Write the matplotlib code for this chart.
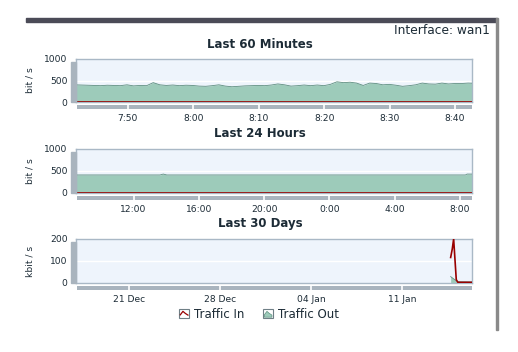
import datetime as dt
import matplotlib
matplotlib.use("Agg")
import matplotlib.pyplot as plt
import matplotlib.dates as mdates
from matplotlib.patches import Rectangle, Polygon
from matplotlib.lines import Line2D
from matplotlib.legend_handler import HandlerBase

W, H = 518, 352

# --- data -------------------------------------------------------------
# last 60 minutes, one value per minute from 7:42 (bit/s)
min_start = dt.datetime(2010, 1, 16, 7, 42)
min_out = [400, 395, 390, 385, 380, 390, 385, 380, 400, 375, 385, 380, 450, 400,
           385, 395, 380, 390, 385, 370, 365, 380, 400, 370, 355, 365, 375, 380,
           385, 380, 395, 420, 400, 370, 380, 395, 380, 395, 380, 410, 470, 450,
           460, 440, 385, 440, 430, 400, 410, 390, 365, 380, 400, 440, 420, 415,
           440, 420, 430, 430, 440, 435]
min_in = [8] * len(min_out)

# last 24 hours (bit/s)
day_times = ["2010-01-15 08:30", "2010-01-15 13:40", "2010-01-15 13:52",
             "2010-01-15 14:05", "2010-01-16 08:20", "2010-01-16 08:26",
             "2010-01-16 08:44"]
day_out = [410, 410, 430, 410, 410, 430, 430]
day_in = [8, 8, 8, 8, 8, 8, 8]

# last 30 days (kbit/s)
month_in_times = ["2010-01-14 17:30", "2010-01-14 20:30", "2010-01-14 23:00",
                  "2010-01-15 03:50", "2010-01-15 06:50", "2010-01-16 08:44"]
month_in = [116, 155, 200, 15, 3, 3]
month_out_times = ["2010-01-14 17:30", "2010-01-15 03:50", "2010-01-15 06:50",
                   "2010-01-16 08:44"]
month_out = [29, 10, 6, 5]

titles = ["Last 60 Minutes", "Last 24 Hours", "Last 30 Days"]
units = ["bit / s", "bit / s", "kbit / s"]

# --- styling ----------------------------------------------------------
C_BG = "#eef4fc"
C_BORDER = "#a9b8c6"
C_BAR = "#a9b4be"
C_OUT = "#9dcbba"
C_OUT_EDGE = "#5f8f80"
C_IN = "#990000"
C_TXT = "#1c2b36"

fig = plt.figure(figsize=(W / 100, H / 100), dpi=100)
fig.patch.set_facecolor("white")


def frect(x0, y0, x1, y1):
    # pixel box (top-left origin) -> figure fraction rect
    return [x0 / W, 1 - y1 / H, (x1 - x0) / W, (y1 - y0) / H]


def hm(x, pos=None):
    d = mdates.num2date(x)
    return f"{d.hour}:{d.minute:02d}"


panels = [
    dict(top=59, bot=102, ymax=1000, yt=[0, 500, 1000],
         xlim=(dt.datetime(2010, 1, 16, 7, 42, 14), dt.datetime(2010, 1, 16, 8, 42, 35)),
         loc=mdates.MinuteLocator(byminute=range(0, 60, 10)),
         fmt=plt.FuncFormatter(hm)),
    dict(top=149, bot=193, ymax=1000, yt=[0, 500, 1000],
         xlim=(dt.datetime(2010, 1, 15, 8, 32), dt.datetime(2010, 1, 16, 8, 44)),
         loc=mdates.HourLocator(byhour=[0, 4, 8, 12, 16, 20]),
         fmt=plt.FuncFormatter(hm)),
    dict(top=239, bot=283, ymax=200, yt=[0, 100, 200],
         xlim=(dt.datetime(2009, 12, 17, 1, 0), dt.datetime(2010, 1, 16, 8, 44)),
         loc=mdates.WeekdayLocator(byweekday=mdates.MO),
         fmt=mdates.DateFormatter("%d %b")),
]

min_times = [min_start + dt.timedelta(minutes=i) for i in range(len(min_out))]
series = [
    (min_times, min_out, min_times, min_in),
    ([dt.datetime.fromisoformat(t) for t in day_times], day_out,
     [dt.datetime.fromisoformat(t) for t in day_times], day_in),
    ([dt.datetime.fromisoformat(t) for t in month_out_times], month_out,
     [dt.datetime.fromisoformat(t) for t in month_in_times], month_in),
]

title_y = [44, 134, 224]

for i, p in enumerate(panels):
    ax = fig.add_axes(frect(76, p["top"], 472, p["bot"]))
    ax.set_facecolor(C_BG)
    for s in ax.spines.values():
        s.set_color(C_BORDER)
        s.set_linewidth(1.0)
    tx, ty, ix, iy = series[i]
    ax.fill_between(tx, ty, 0, color=C_OUT, lw=0, zorder=2)
    ax.plot(tx, ty, color=C_OUT_EDGE, lw=0.6, zorder=3)
    ax.plot(ix, iy, color=C_IN, lw=1.2, zorder=4)
    ax.axhline(p["yt"][1], color="white", lw=1.0, zorder=1)
    ax.set_xlim(*p["xlim"])
    ax.set_ylim(0, p["ymax"])
    ax.set_yticks(p["yt"])
    ax.tick_params(axis="y", length=0, pad=6, labelsize=6.6, labelcolor=C_TXT)
    ax.set_xticks([])

    # gray bar on the left
    fig.patches.append(Rectangle((71 / W, 1 - p["bot"] / H), 4.5 / W,
                                 (p["bot"] - p["top"] - 3) / H,
                                 transform=fig.transFigure, color=C_BAR))

    # gray time bar under the plot with white tick gaps
    bx = fig.add_axes(frect(77, p["bot"] + 3, 472, p["bot"] + 7))
    bx.set_facecolor(C_BAR)
    for s in bx.spines.values():
        s.set_visible(False)
    bx.set_xlim(*p["xlim"])
    bx.set_yticks([])
    bx.xaxis.set_major_locator(p["loc"])
    bx.xaxis.set_major_formatter(p["fmt"])
    bx.tick_params(axis="x", direction="in", length=3.5, width=1.2, color="white",
                   pad=3.5, labelsize=6.6, labelcolor=C_TXT)

    fig.text(260 / W, 1 - title_y[i] / H, titles[i], ha="center", va="center",
             fontsize=8.5, fontweight="bold", color=C_TXT)
    fig.text(30 / W, 1 - (p["top"] + p["bot"]) / 2 / H, units[i], rotation=90,
             ha="center", va="center", fontsize=6.6, color=C_TXT)

fig.text(490 / W, 1 - 30 / H, "Interface: wan1", ha="right", va="center",
         fontsize=8.8, color=C_TXT)

# page decorations: dark header bar and right frame edge
fig.patches.append(Rectangle((26 / W, 1 - 21.5 / H), 471 / W, 4 / H,
                             transform=fig.transFigure, color="#4b4b57"))
fig.patches.append(Rectangle((495.5 / W, 1 - 330 / H), 2.5 / W, 312 / H,
                             transform=fig.transFigure, color="#8a8a8a"))


class BoxIcon(HandlerBase):
    def __init__(self, kind):
        super().__init__()
        self.kind = kind

    def create_artists(self, legend, orig_handle, xd, yd, width, height, fontsize, trans):
        x0, y0 = -xd, -yd
        box = Rectangle((x0, y0), width, height, fc="white", ec="#6f7f86",
                        lw=0.8, transform=trans)
        pts = [(0.12, 0.35), (0.38, 0.72), (0.62, 0.5), (0.88, 0.32)]
        pts = [(x0 + a * width, y0 + b * height) for a, b in pts]
        if self.kind == "line":
            xs, ys = zip(*pts)
            mark = Line2D(xs, ys, color=C_IN, lw=0.9, transform=trans)
        else:
            poly = pts + [(x0 + 0.88 * width, y0 + 0.1 * height),
                          (x0 + 0.12 * width, y0 + 0.1 * height)]
            mark = Polygon(poly, closed=True, fc=C_OUT, ec=C_OUT_EDGE, lw=0.5,
                           transform=trans)
        return [box, mark]


h_in = Line2D([], [], color=C_IN)
h_out = Rectangle((0, 0), 1, 1, color=C_OUT)
fig.legend([h_in, h_out], ["Traffic In", "Traffic Out"],
           handler_map={h_in: BoxIcon("line"), h_out: BoxIcon("area")},
           loc="center", bbox_to_anchor=(259 / W, 1 - 314 / H), ncol=2,
           frameon=False, fontsize=8.5, handlelength=0.85, handleheight=0.85,
           handletextpad=0.4, columnspacing=1.6, borderpad=0, labelcolor=C_TXT)

fig.savefig("out.png", dpi=100, facecolor="white")
